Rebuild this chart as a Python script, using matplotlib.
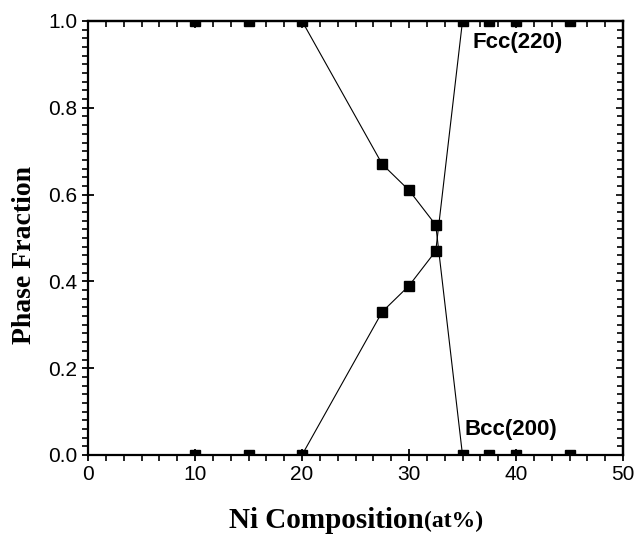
import matplotlib
matplotlib.use("Agg")
import matplotlib.pyplot as plt
from matplotlib.ticker import AutoMinorLocator
from matplotlib.offsetbox import TextArea, HPacker, AnnotationBbox

ni_comp = [10, 15, 20, 27.5, 30, 32.5, 35, 37.5, 40, 45]
bcc_fraction = [1.0, 1.0, 1.0, 0.67, 0.61, 0.53, 0.0, 0.0, 0.0, 0.0]
fcc_fraction = [0.0, 0.0, 0.0, 0.33, 0.39, 0.47, 1.0, 1.0, 1.0, 1.0]
x_ticks = [0, 10, 20, 30, 40, 50]
y_ticks = [0.0, 0.2, 0.4, 0.6, 0.8, 1.0]

sans = ["Liberation Sans", "DejaVu Sans"]
serif = ["Liberation Serif", "DejaVu Serif"]

fig = plt.figure(figsize=(6.37, 5.35), dpi=100)
ax = fig.add_axes([88/637, 1-455/535, 535/637, 434/535])

for ys in (bcc_fraction, fcc_fraction):
    ax.plot(ni_comp, ys, color="black", lw=0.8, marker="s", ms=6.5,
            mfc="black", mec="black")

ax.set_xlim(0, 50)
ax.set_ylim(0, 1.0)
ax.set_xticks(x_ticks)
ax.set_yticks(y_ticks)
ax.set_xticklabels([str(v) for v in x_ticks], fontfamily=sans, fontsize=15)
ax.set_yticklabels([f"{v:.1f}" for v in y_ticks], fontfamily=sans, fontsize=15)
ax.xaxis.set_minor_locator(AutoMinorLocator(6))
ax.yaxis.set_minor_locator(AutoMinorLocator(10))
ax.tick_params(which="major", direction="inout", length=9, width=1.3, pad=3)
ax.tick_params(which="minor", direction="out", length=4, width=1.2)
for s in ax.spines.values():
    s.set_linewidth(1.6)

# top / right ticks pointing inward
top = ax.secondary_xaxis("top")
top.set_xticks(x_ticks)
top.xaxis.set_minor_locator(AutoMinorLocator(6))
top.tick_params(which="both", direction="in", labeltop=False, width=1.2)
top.tick_params(which="major", length=5)
top.tick_params(which="minor", length=4)
right = ax.secondary_yaxis("right")
right.set_yticks(y_ticks)
right.yaxis.set_minor_locator(AutoMinorLocator(10))
right.tick_params(which="both", direction="in", labelright=False, width=1.2)
right.tick_params(which="major", length=5)
right.tick_params(which="minor", length=4)
for s in list(top.spines.values()) + list(right.spines.values()):
    s.set_linewidth(1.6)

ax.text(35.9, 0.95, "Fcc(220)", fontfamily=sans, fontweight="bold",
        fontsize=16, ha="left", va="center")
ax.text(35.2, 0.058, "Bcc(200)", fontfamily=sans, fontweight="bold",
        fontsize=16, ha="left", va="center")

# x label with smaller "(at%)"
t1 = TextArea("Ni Composition", textprops=dict(fontfamily=serif,
              fontweight="bold", fontsize=21))
t2 = TextArea("(at%)", textprops=dict(fontfamily=serif,
              fontweight="bold", fontsize=17))
pack = HPacker(children=[t1, t2], align="baseline", pad=0, sep=0)
ab = AnnotationBbox(pack, (356/637, 1-520/535), xycoords="figure fraction",
                    box_alignment=(0.5, 0.5), frameon=False)
fig.add_artist(ab)

fig.text(25/637, 1-255/535, "Phase Fraction", fontfamily=serif,
         fontweight="bold", fontsize=20, rotation=90, ha="center", va="center")

fig.savefig("out.png", dpi=100)
